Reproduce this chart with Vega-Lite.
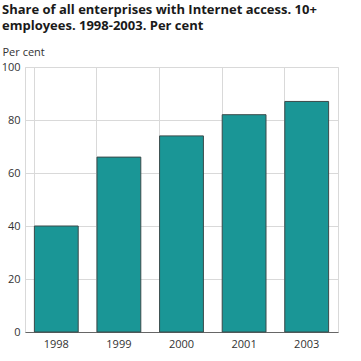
{
  "$schema": "https://vega.github.io/schema/vega-lite/v6.json",
  "autosize": "none",
  "width": 313,
  "height": 265,
  "padding": {"left": 25, "top": 67, "right": 23, "bottom": 29},
  "background": "white",
  "title": {
    "text": ["Share of all enterprises with Internet access. 10+", "employees. 1998-2003. Per cent"],
    "anchor": "start",
    "frame": "group",
    "dx": -23,
    "offset": 13,
    "font": "Open Sans",
    "fontSize": 13,
    "fontWeight": "bold",
    "color": "#1a1a1a",
    "lineHeight": 16
  },
  "config": {
    "view": {"stroke": "#d9d9d9", "strokeWidth": 1},
    "font": "Open Sans",
    "axis": {"labelFont": "Open Sans", "labelFontSize": 11, "labelColor": "#333", "titleFont": "Open Sans"}
  },
  "data": {
    "values": [
      {"year": "1998", "value": 40},
      {"year": "1999", "value": 66},
      {"year": "2000", "value": 74},
      {"year": "2001", "value": 82},
      {"year": "2003", "value": 87}
    ]
  },
  "mark": {"type": "bar", "color": "#1a9696", "stroke": "#3a4a4a", "strokeWidth": 1},
  "encoding": {
    "x": {
      "field": "year",
      "type": "ordinal",
      "scale": {"paddingInner": 0.3, "paddingOuter": 0.15},
      "axis": {
        "title": null,
        "labelAngle": 0,
        "ticks": false,
        "labelPadding": 6,
        "domainColor": "#666",
        "grid": true,
        "gridColor": "#d9d9d9",
        "bandPosition": 0
      }
    },
    "y": {
      "field": "value",
      "type": "quantitative",
      "scale": {"domain": [0, 100]},
      "axis": {
        "title": "Per cent",
        "titleAngle": 0,
        "titleAlign": "left",
        "titleBaseline": "bottom",
        "titleX": -23,
        "titleY": -10,
        "titleFontSize": 11,
        "titleFontWeight": "normal",
        "titleColor": "#333",
        "values": [0, 20, 40, 60, 80, 100],
        "ticks": false,
        "domain": false,
        "labelPadding": 5,
        "gridColor": "#d9d9d9"
      }
    }
  }
}
